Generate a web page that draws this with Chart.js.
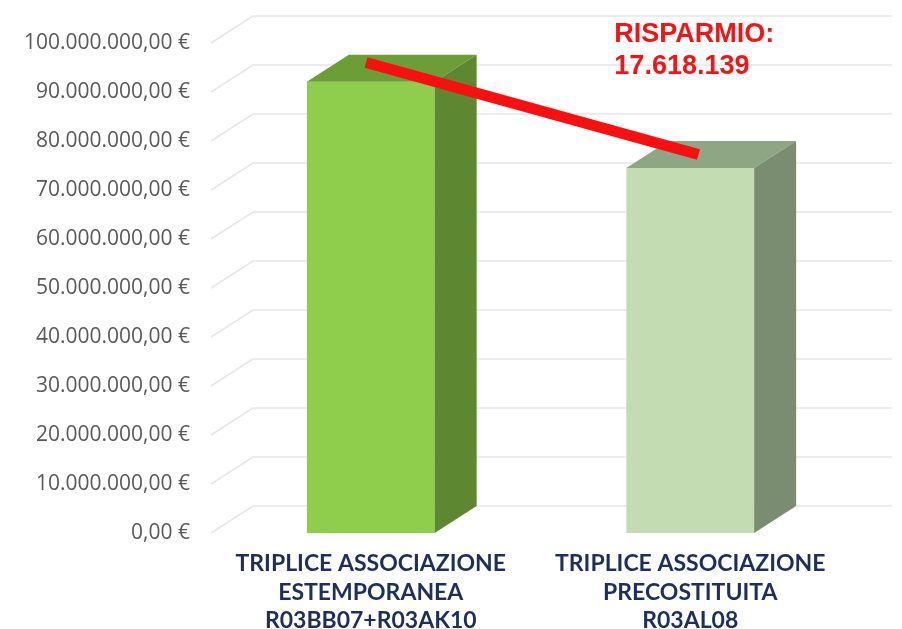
<!DOCTYPE html>
<html>
<head>
<meta charset="utf-8">
<script src="https://cdn.jsdelivr.net/npm/chart.js@4.4.1/dist/chart.umd.min.js"></script>
<style>
  html, body { margin: 0; padding: 0; background: #ffffff; }
  #wrap { width: 902px; height: 629px; }
</style>
</head>
<body>
<div id="wrap"><canvas id="costChart" width="902" height="629"></canvas></div>
<script>
// data
const categories = [
  ["TRIPLICE ASSOCIAZIONE", "ESTEMPORANEA", "R03BB07+R03AK10"],
  ["TRIPLICE ASSOCIAZIONE", "PRECOSTITUITA", "R03AL08"]
];
const costs = [92100000, 74481861];
const yTicks = [0, 10000000, 20000000, 30000000, 40000000, 50000000, 60000000, 70000000, 80000000, 90000000, 100000000];

// colours of the fake 3d boxes
const frontColors = ["#8fce4c", "#c3dcb2"];
const sideColors = ["#5d8731", "#7b8d70"];
const topColors = ["#6c9e38", "#8ea683"];
const DX = 42, DY = -27;

function dots(intStr) {
  return intStr.replace(/\B(?=(\d{3})+(?!\d))/g, ".");
}
function euro(v) {
  const parts = v.toFixed(2).split(".");
  return dots(parts[0]) + "," + parts[1] + " €";
}

const boxPlugin = {
  id: "box3d",
  beforeDatasetsDraw(chart) {
    const ctx = chart.ctx;
    const y = chart.scales.y;
    const area = chart.chartArea;
    ctx.save();
    ctx.strokeStyle = "#e6e6e6";
    ctx.lineWidth = 1.5;
    yTicks.forEach((v) => {
      const py = y.getPixelForValue(v);
      ctx.beginPath();
      ctx.moveTo(area.left, py);
      ctx.lineTo(area.left + DX, py + DY);
      ctx.lineTo(area.right + DX, py + DY);
      ctx.stroke();
    });
    ctx.restore();
  },
  afterDatasetsDraw(chart) {
    const ctx = chart.ctx;
    const meta = chart.getDatasetMeta(0);
    ctx.save();
    meta.data.forEach((bar, i) => {
      const p = bar.getProps(["x", "y", "width", "base"], true);
      const l = p.x - p.width / 2;
      const r = p.x + p.width / 2;
      // top
      ctx.fillStyle = topColors[i];
      ctx.beginPath();
      ctx.moveTo(l, p.y);
      ctx.lineTo(l + DX, p.y + DY);
      ctx.lineTo(r + DX, p.y + DY);
      ctx.lineTo(r, p.y);
      ctx.closePath();
      ctx.fill();
      // side
      ctx.fillStyle = sideColors[i];
      ctx.beginPath();
      ctx.moveTo(r, p.y);
      ctx.lineTo(r + DX, p.y + DY);
      ctx.lineTo(r + DX, p.base + DY);
      ctx.lineTo(r, p.base);
      ctx.closePath();
      ctx.fill();
    });

    // red savings line across the tops
    const a = meta.data[0].getProps(["x", "y", "width"], true);
    const b = meta.data[1].getProps(["x", "y", "width"], true);
    const x1 = a.x - a.width / 2 + a.width * 0.23 + DX * 0.71;
    const y1 = a.y + DY * 0.71;
    const x2 = b.x - b.width / 2 + b.width * 0.4 + DX * 0.5;
    const y2 = b.y + DY * 0.5;
    ctx.strokeStyle = "#f81010";
    ctx.lineWidth = 11;
    ctx.lineCap = "butt";
    ctx.beginPath();
    ctx.moveTo(x1, y1);
    ctx.lineTo(x2, y2);
    ctx.stroke();

    // label
    const saving = costs[0] - costs[1];
    ctx.fillStyle = "#f41414";
    ctx.font = "bold 27px 'Liberation Sans', Arial, sans-serif";
    ctx.textAlign = "left";
    ctx.textBaseline = "alphabetic";
    const tx = b.x - b.width / 2 - 12;
    ctx.fillText("RISPARMIO:", tx, chart.chartArea.top - 1);
    ctx.fillText(dots(String(Math.round(saving))), tx, chart.chartArea.top + 31);
    ctx.restore();
  }
};

const ctx = document.getElementById("costChart").getContext("2d");
new Chart(ctx, {
  type: "bar",
  data: {
    labels: categories,
    datasets: [
      {
        data: costs,
        backgroundColor: frontColors,
        borderWidth: 0,
        barPercentage: 0.4,
        categoryPercentage: 1
      }
    ]
  },
  options: {
    responsive: false,
    animation: false,
    layout: { padding: { top: 43, right: 52, bottom: 0, left: 0 } },
    plugins: {
      legend: { display: false },
      tooltip: { enabled: false }
    },
    scales: {
      x: {
        grid: { display: false, drawTicks: false },
        border: { display: false },
        ticks: {
          color: "#1c2f5e",
          padding: 17,
          maxRotation: 0,
          font: { family: "Lato, 'Open Sans', sans-serif", size: 23, weight: "bold", lineHeight: 1.22 }
        },
        afterFit(scale) { scale.height = 96; }
      },
      y: {
        min: 0,
        max: 100000000,
        afterBuildTicks(scale) {
          scale.ticks = yTicks.map((v) => ({ value: v }));
        },
        grid: { display: false, drawTicks: false },
        border: { display: false },
        ticks: {
          color: "#595959",
          padding: 21,
          font: { family: "'Open Sans', sans-serif", size: 21 },
          callback: (v) => euro(v)
        },
        afterFit(scale) { scale.width = 211; }
      }
    }
  },
  plugins: [boxPlugin]
});
</script>
</body>
</html>
